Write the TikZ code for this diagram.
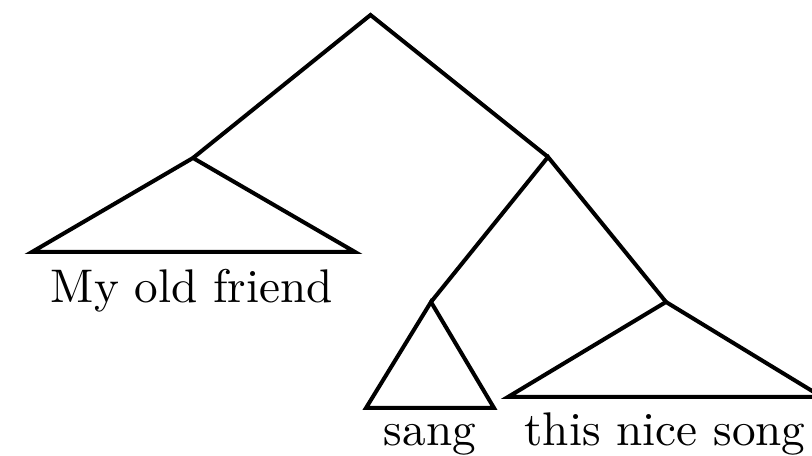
\documentclass[tikz,border=0pt]{standalone}
\begin{document}
\begin{tikzpicture}[x=0.2119pt,y=-0.2119pt,line width=0.85pt,
  edge/.style={draw,line join=miter},
  roof/.style={draw,line join=miter},
  lbl/.style={anchor=base,inner sep=0pt,font=\fontsize{10}{12}\selectfont}]
\useasboundingbox (0,0) rectangle (812,456);
\coordinate (r) at (370.5,15);
\coordinate (a) at (193,158);
\coordinate (b) at (548,157);
\coordinate (c) at (431,302);
\coordinate (d) at (666,302);
\coordinate (al) at (32,252);
\coordinate (ar) at (355,252);
\coordinate (cl) at (366,408);
\coordinate (cr) at (494,408);
\coordinate (dl) at (508,397);
\coordinate (dr) at (822,397);
\draw[edge] (a) -- (r) -- (b);
\draw[edge] (c) -- (b) -- (d);
\draw[roof] (a) -- (al) -- (ar) -- cycle;
\draw[roof] (c) -- (cl) -- (cr) -- cycle;
\draw[roof] (d) -- (dl) -- (dr) -- cycle;
\node[lbl] (ta) at (192,303) {My old friend};
\node[lbl] (tc) at (430,446) {sang};
\node[lbl] (td) at (665,446) {this nice song};
\end{tikzpicture}
\end{document}
